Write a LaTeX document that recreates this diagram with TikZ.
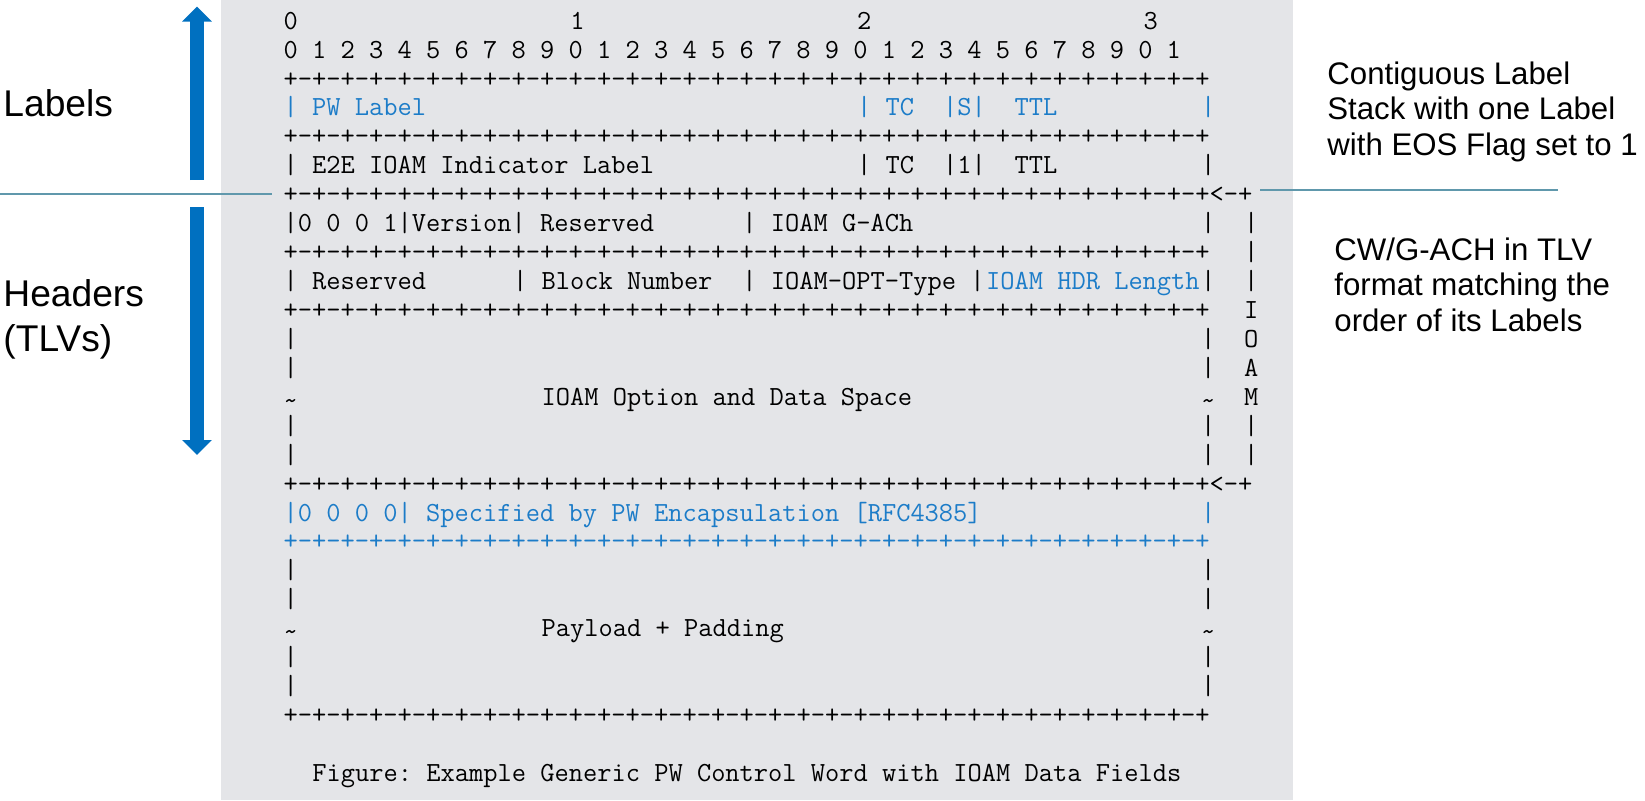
\documentclass[tikz,border=0pt]{standalone}
\usepackage{fontspec}
\setsansfont{Liberation Sans}
\usetikzlibrary{arrows.meta}
\definecolor{pwblue}{RGB}{0,112,192}
\definecolor{fieldblue}{RGB}{28,124,200}
\definecolor{lineteal}{RGB}{96,152,172}
\definecolor{panelgray}{RGB}{228,229,232}
\tikzset{>={Triangle[width=14.5pt,length=7.5pt]}}
\tikzset{
	% ascii art text
	mono/.style={anchor=base west,inner sep=0pt,font=\fontsize{13.83}{16}\ttfamily},
	blue field/.style={text=fieldblue},
	% notes beside the figure
	side/.style={anchor=base west,inner sep=0pt,align=left,font=\fontsize{15.6}{17.75}\sffamily},
	big side/.style={side,font=\fontsize{18.6}{22.5}\sffamily},
	% arrows and lines
	span arrow/.style={pwblue,line width=7pt,->},
	split line/.style={lineteal,line width=1pt},
}
\newcommand{\seg}{+-+-+-+-+-+-+-+-}
\newcommand{\dashrow}{\seg\seg\seg\seg+}
\newcommand{\wave}{\raisebox{-0.15em}{\textasciitilde}}
\newcommand{\asc}[5][]{\node[mono,#1] (#2) at ({283.33+14.333*(#3)},{29.2+28.93*(#4)}) {#5};}

\begin{document}
\frenchspacing
\begin{tikzpicture}[x=0.5pt,y=-0.5pt]
	\useasboundingbox (0,0) rectangle (1645,800);
	\fill[panelgray] (221,0) rectangle (1293,800);
	
	\coordinate (lsepA) at (0,194);
	\coordinate (lsepB) at (272,194);
	\draw[split line] (lsepA) -- (lsepB);
	\coordinate (rsepA) at (1260,190);
	\coordinate (rsepB) at (1558,190);
	\draw[split line] (rsepA) -- (rsepB);
	
	\coordinate (labfoot) at (197,180);
	\coordinate (labtip) at (197,6.5);
	\draw[span arrow] (labfoot) -- (labtip);
	\coordinate (hdrfoot) at (197,207);
	\coordinate (hdrtip) at (197,455);
	\draw[span arrow] (hdrfoot) -- (hdrtip);
	
	\node[big side] (labels) at (3,116.7) {Labels};
	\node[big side] (headers) at (3,351.7) {Headers\\(TLVs)};
	\node[side] (stacknote) at (1327,155.3) {Contiguous Label\\Stack with one Label\\with EOS Flag set to 1};
	\node[side] (tlvnote) at (1334,331) {CW/G-ACH in TLV\\format matching the\\order of its Labels};
	
	\asc{r0a}{0}{0}{0} \asc{r0b}{20}{0}{1} \asc{r0c}{40}{0}{2} \asc{r0d}{60}{0}{3}
	\asc{r1}{0}{1}{0 1 2 3 4 5 6 7 8 9 0 1 2 3 4 5 6 7 8 9 0 1 2 3 4 5 6 7 8 9 0 1}
	\asc{r2}{0}{2}{\dashrow}
	\asc[blue field]{r3a}{0}{3}{| PW Label}
	\asc[blue field]{r3b}{40}{3}{| TC}
	\asc[blue field]{r3c}{46}{3}{|S|}
	\asc[blue field]{r3d}{51}{3}{TTL}
	\asc[blue field]{r3e}{64}{3}{|}
	\asc{r4}{0}{4}{\dashrow}
	\asc{r5a}{0}{5}{| E2E IOAM Indicator Label}
	\asc{r5b}{40}{5}{| TC}
	\asc{r5c}{46}{5}{|1|}
	\asc{r5d}{51}{5}{TTL}
	\asc{r5e}{64}{5}{|}
	\asc{r6}{0}{6}{\dashrow<-+}
	
	\asc{r7a}{0}{7}{|0 0 0 1|Version| Reserved}
	\asc{r7b}{32}{7}{| IOAM G-ACh}
	\asc{r7c}{64}{7}{|} \asc{r7d}{67}{7}{|}
	\asc{r8a}{0}{8}{\dashrow} \asc{r8b}{67}{8}{|}
	\asc{r9a}{0}{9}{| Reserved}
	\asc{r9b}{16}{9}{| Block Number}
	\asc{r9c}{32}{9}{| IOAM-OPT-Type |}
	\asc[blue field]{r9d}{49}{9}{IOAM HDR Length}
	\asc{r9e}{64}{9}{|} \asc{r9f}{67}{9}{|}
	\asc{r10a}{0}{10}{\dashrow} \asc{r10b}{67}{10}{I}
	\asc{r11a}{0}{11}{|} \asc{r11b}{64}{11}{|} \asc{r11c}{67}{11}{O}
	\asc{r12a}{0}{12}{|} \asc{r12b}{64}{12}{|} \asc{r12c}{67}{12}{A}
	\asc{r13a}{0}{13}{\wave}
	\asc{r13b}{18}{13}{IOAM Option and Data Space}
	\asc{r13c}{64}{13}{\wave} \asc{r13d}{67}{13}{M}
	\asc{r14a}{0}{14}{|} \asc{r14b}{64}{14}{|} \asc{r14c}{67}{14}{|}
	\asc{r15a}{0}{15}{|} \asc{r15b}{64}{15}{|} \asc{r15c}{67}{15}{|}
	\asc{r16}{0}{16}{\dashrow<-+}
	
	\asc[blue field]{r17a}{0}{17}{|0 0 0 0| Specified by PW Encapsulation [RFC4385]}
	\asc[blue field]{r17b}{64}{17}{|}
	\asc[blue field]{r18}{0}{18}{\dashrow}
	\asc{r19a}{0}{19}{|} \asc{r19b}{64}{19}{|}
	\asc{r20a}{0}{20}{|} \asc{r20b}{64}{20}{|}
	\asc{r21a}{0}{21}{\wave}
	\asc{r21b}{18}{21}{Payload + Padding}
	\asc{r21c}{64}{21}{\wave}
	\asc{r22a}{0}{22}{|} \asc{r22b}{64}{22}{|}
	\asc{r23a}{0}{23}{|} \asc{r23b}{64}{23}{|}
	\asc{r24}{0}{24}{\dashrow}
	
	\asc{r26}{2}{26}{Figure: Example Generic PW Control Word with IOAM Data Fields}
\end{tikzpicture}
\end{document}
